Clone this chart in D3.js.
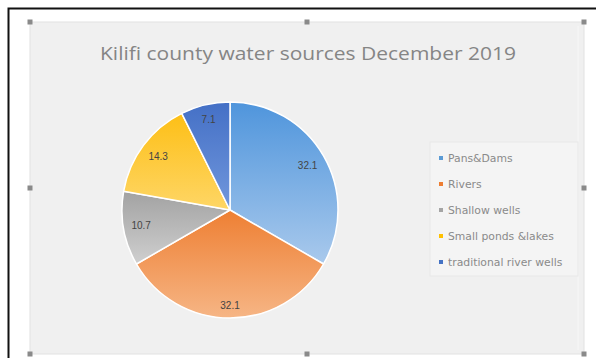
<!DOCTYPE html>
<html>
<head>
<meta charset="utf-8">
<script src="https://cdn.jsdelivr.net/npm/d3@7"></script>
<style>
  html, body { margin: 0; padding: 0; background: #ffffff; }
  svg { display: block; }
</style>
</head>
<body>
<svg id="chart" width="596" height="358"></svg>
<script>
// Water sources in Kilifi county, December 2019
const categories = ["Pans&Dams", "Rivers", "Shallow wells", "Small ponds &lakes", "traditional river wells"];
const shares = [32.1, 32.1, 10.7, 14.3, 7.1];
const title = "Kilifi county water sources December 2019";

// gradient stops per slice: darker shade at the top, lighter toward the bottom
const topColors = ["#4f95dc", "#ee7f33", "#a2a2a2", "#fdbf16", "#4470c6"];
const bottomColors = ["#a9c9ec", "#f6b585", "#cfcfcf", "#fed666", "#7197dc"];
const swatchColors = ["#5b9bd5", "#ed7d31", "#a5a5a5", "#ffc000", "#4472c4"];

const svg = d3.select("#chart");
const W = 596, H = 358;

// outer frame
svg.append("rect").attr("x", 0).attr("y", 0).attr("width", W).attr("height", H).attr("fill", "#ffffff");
svg.append("rect").attr("x", 8.5).attr("y", 8.5).attr("width", W + 20).attr("height", H + 20)
  .attr("fill", "none").attr("stroke", "#111").attr("stroke-width", 2);

// chart area
const area = { x: 30, y: 22, w: 554, h: 332 };
svg.append("rect").attr("x", area.x).attr("y", area.y).attr("width", area.w).attr("height", area.h)
  .attr("fill", "#f0f0f0").attr("stroke", "#e2e2e2").attr("stroke-width", 1);
svg.append("line").attr("x1", area.x + area.w - 6).attr("x2", area.x + area.w - 6)
  .attr("y1", area.y + 4).attr("y2", area.y + area.h - 4).attr("stroke", "#f7f7f7").attr("stroke-width", 1);

// selection handles
const hx = [area.x, area.x + area.w / 2, area.x + area.w];
const hy = [area.y, area.y + area.h / 2, area.y + area.h];
hx.forEach((x, i) => hy.forEach((y, j) => {
  if (i === 1 && j === 1) return;
  svg.append("rect").attr("x", x - 2.5).attr("y", y - 2.5).attr("width", 5).attr("height", 5)
    .attr("fill", "#8a8a8a");
}));

// title
svg.append("text")
  .attr("x", 308).attr("y", 60)
  .attr("text-anchor", "middle")
  .attr("font-family", "'Open Sans', 'DejaVu Sans', sans-serif")
  .attr("font-size", 19)
  .attr("fill", "#858585")
  .attr("textLength", 416)
  .attr("lengthAdjust", "spacingAndGlyphs")
  .text(title);

// gradients
const defs = svg.append("defs");
categories.forEach((c, i) => {
  const g = defs.append("linearGradient").attr("id", "grad" + i)
    .attr("x1", 0).attr("y1", 0).attr("x2", 0).attr("y2", 1);
  g.append("stop").attr("offset", "0%").attr("stop-color", topColors[i]);
  g.append("stop").attr("offset", "100%").attr("stop-color", bottomColors[i]);
});

// pie
const cx = 230, cy = 210, r = 108;
const pie = d3.pie().sort(null).value(d => d.v);
const arcs = pie(shares.map((v, i) => ({ v, i })));
const arc = d3.arc().innerRadius(0).outerRadius(r);

const pg = svg.append("g").attr("transform", `translate(${cx},${cy})`);
pg.selectAll("path").data(arcs).join("path")
  .attr("d", arc)
  .attr("fill", d => `url(#grad${d.data.i})`)
  .attr("stroke", "#ffffff")
  .attr("stroke-width", 1.5)
  .attr("stroke-linejoin", "round");

// value labels placed at the inside end of each slice
const fmt = d3.format(".1f");
const labelW = 20, labelH = 11, margin = 7;
pg.selectAll("text.val").data(arcs).join("text")
  .attr("class", "val")
  .attr("font-family", "'Liberation Sans', Arial, sans-serif")
  .attr("font-size", 10)
  .attr("fill", "#444444")
  .attr("text-anchor", "middle")
  .attr("dominant-baseline", "central")
  .attr("transform", d => {
    const a = (d.startAngle + d.endAngle) / 2;
    const ext = Math.abs(Math.sin(a)) * labelW / 2 + Math.abs(Math.cos(a)) * labelH / 2;
    const dist = r - margin - ext;
    return `translate(${Math.sin(a) * dist},${-Math.cos(a) * dist})`;
  })
  .text(d => fmt(d.data.v));

// legend
const lg = svg.append("g");
lg.append("rect").attr("x", 430).attr("y", 142).attr("width", 148).attr("height", 134)
  .attr("fill", "#f4f4f4").attr("stroke", "#e8e8e8").attr("stroke-width", 1);
const ly = d3.scalePoint().domain(categories).range([158, 262]);
categories.forEach((c, i) => {
  lg.append("rect").attr("x", 439).attr("y", ly(c) - 2).attr("width", 4).attr("height", 4)
    .attr("fill", swatchColors[i]);
  lg.append("text").attr("x", 448).attr("y", ly(c))
    .attr("dominant-baseline", "central")
    .attr("font-family", "'DejaVu Sans', sans-serif")
    .attr("font-size", 10.8)
    .attr("fill", "#8a8a8a")
    .text(c);
});
</script>
</body>
</html>
